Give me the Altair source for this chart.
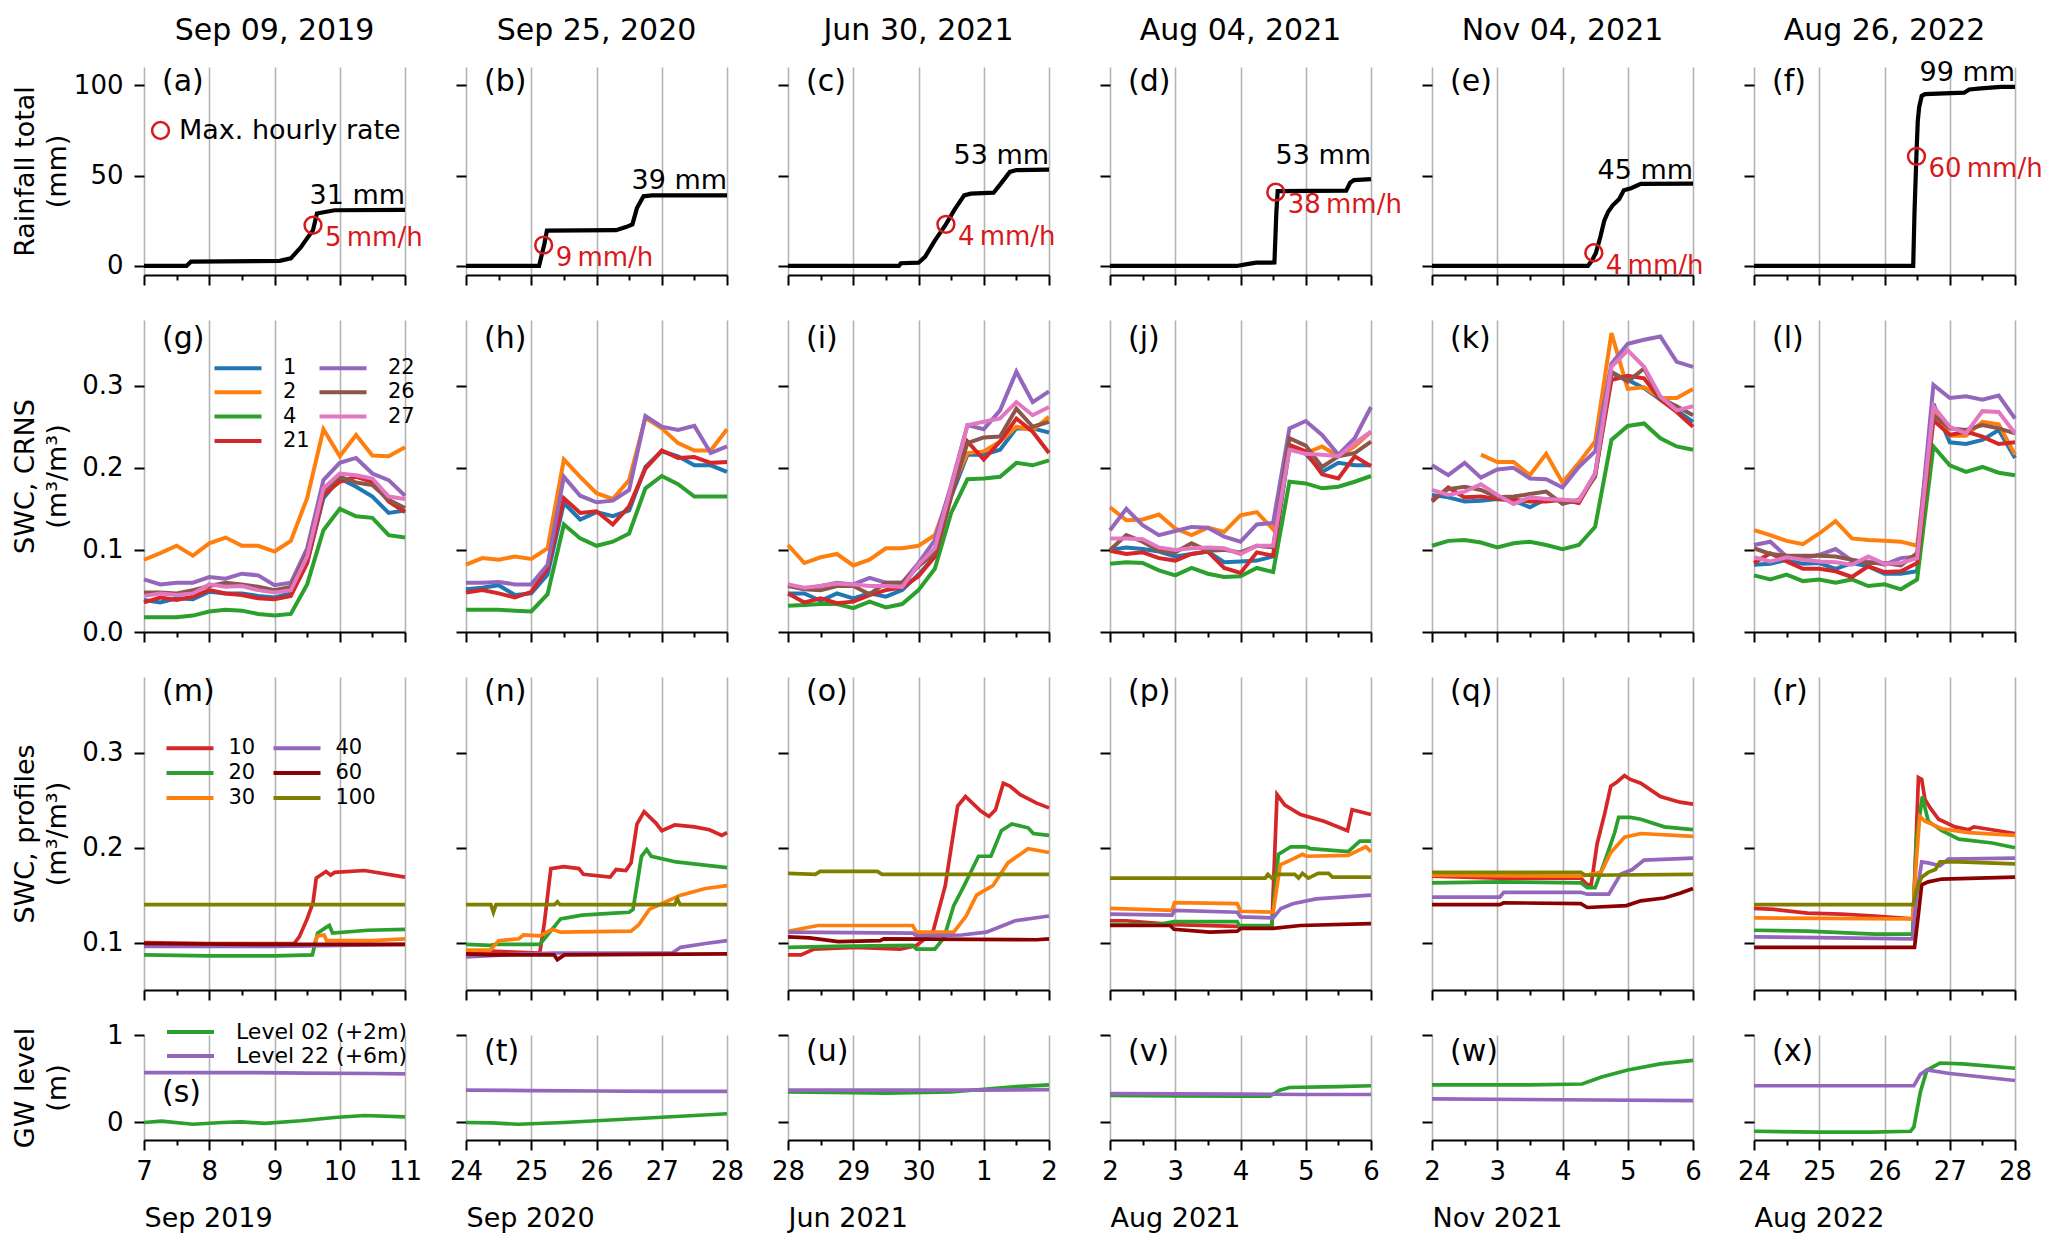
import altair as alt
import pandas as pd

FONT = "DejaVu Sans"
RED = "#d7191c"

# ---------------- text ----------------
COL_TITLES = ["Sep 09, 2019", "Sep 25, 2020", "Jun 30, 2021", "Aug 04, 2021", "Nov 04, 2021", "Aug 26, 2022"]
MONTHS = ["Sep 2019", "Sep 2020", "Jun 2021", "Aug 2021", "Nov 2021", "Aug 2022"]
DAY_LABELS = [["7", "8", "9", "10", "11"], ["24", "25", "26", "27", "28"], ["28", "29", "30", "1", "2"],
              ["2", "3", "4", "5", "6"], ["2", "3", "4", "5", "6"], ["24", "25", "26", "27", "28"]]
LETTERS = ["a", "b", "c", "d", "e", "f", "g", "h", "i", "j", "k", "l",
           "m", "n", "o", "p", "q", "r", "s", "t", "u", "v", "w", "x"]
Y_TITLES = [["Rainfall total", "(mm)"], ["SWC, CRNS", "(m³/m³)"], ["SWC, profiles", "(m³/m³)"], ["GW level", "(m)"]]
Y_TICKS = [[0, 50, 100], [0, 0.1, 0.2, 0.3], [0.1, 0.2, 0.3], [0, 1]]
Y_FMT = ["d", ".1f", ".1f", "d"]
Y_DOM = [[-5, 110], [0, 0.38], [0.05, 0.38], [-0.2, 1.0]]
X_TICKS = [0, 0.5, 1, 1.5, 2, 2.5, 3, 3.5, 4]

# ---------------- rainfall (days since start, cumulative mm) ----------------
RAIN_A = [(0, 0), (0.65, 0), (0.72, 2.4), (2.08, 2.8), (2.25, 4.2), (2.41, 10.6), (2.48, 14.3), (2.59, 19.8),
          (2.65, 29.0), (2.92, 30.8), (4, 31)]
RAIN_B = [(0, 0), (1.12, 0), (1.16, 6), (1.2, 12), (1.24, 19.5), (2.3, 19.8), (2.45, 21.5), (2.55, 23),
          (2.62, 32), (2.72, 38.5), (2.85, 39), (4, 39)]
RAIN_C = [(0, 0), (1.7, 0), (1.73, 1.5), (2.0, 1.8), (2.1, 5), (2.25, 14), (2.42, 23), (2.55, 31), (2.7, 39),
          (2.8, 40), (3.15, 40.5), (3.25, 45), (3.4, 52), (3.5, 53), (4, 53.3)]
RAIN_D = [(0, 0), (1.94, 0), (2.1, 1.0), (2.24, 1.8), (2.52, 1.9), (2.55, 30), (2.57, 41.4), (3.62, 41.6),
          (3.68, 46), (3.74, 47.5), (4, 48)]
RAIN_E = [(0, 0), (2.39, 0), (2.45, 3), (2.51, 7), (2.58, 16), (2.64, 25), (2.7, 30), (2.77, 33.5), (2.87, 37),
          (2.94, 41.8), (3.05, 43), (3.2, 45.4), (4, 45.5)]
RAIN_F = [(0, 0), (2.44, 0), (2.46, 30), (2.49, 62), (2.51, 80), (2.53, 87.5), (2.57, 94), (2.62, 95),
          (3.22, 95.8), (3.3, 97.6), (3.48, 98.2), (3.78, 99), (4, 99)]
RAIN = [RAIN_A, RAIN_B, RAIN_C, RAIN_D, RAIN_E, RAIN_F]
RAIN_TOTAL = [31, 39, 53, 53, 45, 99]
MAX_RATE = [5, 9, 4, 38, 4, 60]
MAX_RATE_T = [2.59, 1.19, 2.42, 2.54, 2.48, 2.49]
MAX_RATE_V = [22.5, 11.5, 23, 40.8, 7.3, 60.6]

# ---------------- CRNS soil water content (6-hourly) ----------------
T6 = [0, 0.25, 0.5, 0.75, 1, 1.25, 1.5, 1.75, 2, 2.25, 2.5, 2.75, 3, 3.25, 3.5, 3.75, 4]
CRNS_KEYS = ["1", "2", "4", "21", "22", "26", "27"]
CRNS_COLORS = ["#1f77b4", "#ff7f0e", "#2ca02c", "#d62728", "#9467bd", "#8c564b", "#e377c2"]

G_1 = [0.039, 0.036, 0.041, 0.040, 0.049, 0.047, 0.047, 0.044, 0.042, 0.047, 0.084, 0.163, 0.187, 0.177, 0.165, 0.145, 0.148]
G_2 = [0.088, 0.096, 0.105, 0.093, 0.108, 0.115, 0.105, 0.105, 0.098, 0.111, 0.163, 0.247, 0.214, 0.240, 0.215, 0.214, 0.225]
G_4 = [0.018, 0.018, 0.018, 0.020, 0.025, 0.027, 0.026, 0.022, 0.020, 0.022, 0.058, 0.124, 0.150, 0.141, 0.139, 0.118, 0.115]
G_21 = [0.036, 0.042, 0.039, 0.043, 0.051, 0.047, 0.045, 0.041, 0.040, 0.044, 0.084, 0.167, 0.183, 0.189, 0.183, 0.159, 0.146]
G_22 = [0.064, 0.058, 0.060, 0.060, 0.067, 0.065, 0.071, 0.069, 0.057, 0.060, 0.102, 0.185, 0.206, 0.212, 0.193, 0.185, 0.166]
G_26 = [0.048, 0.048, 0.047, 0.051, 0.056, 0.060, 0.058, 0.055, 0.051, 0.055, 0.096, 0.173, 0.189, 0.182, 0.179, 0.161, 0.151]
G_27 = [0.044, 0.047, 0.045, 0.047, 0.058, 0.055, 0.056, 0.051, 0.048, 0.051, 0.092, 0.175, 0.193, 0.191, 0.187, 0.165, 0.162]

H_1 = [0.052, 0.054, 0.057, 0.045, 0.047, 0.070, 0.157, 0.137, 0.146, 0.141, 0.148, 0.201, 0.220, 0.214, 0.203, 0.203, 0.195]
H_2 = [0.082, 0.090, 0.088, 0.092, 0.089, 0.102, 0.210, 0.189, 0.169, 0.162, 0.185, 0.261, 0.248, 0.230, 0.221, 0.221, 0.247]
H_4 = [0.027, 0.027, 0.027, 0.026, 0.025, 0.046, 0.131, 0.114, 0.105, 0.110, 0.120, 0.175, 0.190, 0.180, 0.165, 0.165, 0.165]
H_21 = [0.048, 0.051, 0.047, 0.042, 0.049, 0.077, 0.163, 0.145, 0.147, 0.131, 0.153, 0.199, 0.221, 0.212, 0.213, 0.206, 0.207]
H_22 = [0.060, 0.060, 0.061, 0.058, 0.058, 0.082, 0.189, 0.166, 0.158, 0.160, 0.173, 0.263, 0.250, 0.246, 0.251, 0.218, 0.226]
H_26 = []
H_27 = []

I_1 = [0.047, 0.047, 0.038, 0.047, 0.041, 0.047, 0.043, 0.051, 0.070, 0.092, 0.165, 0.216, 0.216, 0.222, 0.248, 0.248, 0.243]
I_2 = [0.106, 0.084, 0.091, 0.095, 0.081, 0.088, 0.102, 0.102, 0.105, 0.118, 0.173, 0.218, 0.220, 0.232, 0.250, 0.246, 0.262]
I_4 = [0.032, 0.033, 0.034, 0.034, 0.029, 0.037, 0.030, 0.034, 0.051, 0.077, 0.145, 0.186, 0.187, 0.189, 0.206, 0.203, 0.209]
I_21 = [0.047, 0.036, 0.041, 0.035, 0.037, 0.045, 0.051, 0.054, 0.068, 0.092, 0.165, 0.232, 0.210, 0.232, 0.260, 0.244, 0.218]
I_22 = [0.058, 0.052, 0.056, 0.060, 0.058, 0.066, 0.060, 0.060, 0.084, 0.112, 0.179, 0.252, 0.247, 0.270, 0.317, 0.280, 0.293]
I_26 = [0.056, 0.052, 0.051, 0.056, 0.056, 0.046, 0.060, 0.060, 0.080, 0.096, 0.169, 0.230, 0.237, 0.238, 0.272, 0.250, 0.256]
I_27 = [0.058, 0.054, 0.056, 0.059, 0.058, 0.056, 0.056, 0.055, 0.082, 0.102, 0.177, 0.252, 0.256, 0.260, 0.280, 0.264, 0.274]

J_1 = [0.100, 0.103, 0.101, 0.098, 0.092, 0.095, 0.098, 0.085, 0.086, 0.087, 0.092, 0.224, 0.217, 0.195, 0.206, 0.203, 0.203]
J_2 = [0.152, 0.136, 0.137, 0.143, 0.126, 0.118, 0.127, 0.122, 0.142, 0.146, 0.125, 0.226, 0.218, 0.226, 0.214, 0.226, 0.244]
J_4 = [0.083, 0.085, 0.084, 0.075, 0.069, 0.078, 0.071, 0.067, 0.068, 0.078, 0.073, 0.183, 0.181, 0.175, 0.177, 0.183, 0.190]
J_21 = [0.099, 0.095, 0.097, 0.090, 0.087, 0.095, 0.098, 0.078, 0.072, 0.097, 0.093, 0.228, 0.220, 0.192, 0.187, 0.214, 0.202]
J_22 = [0.124, 0.150, 0.130, 0.118, 0.123, 0.128, 0.127, 0.116, 0.110, 0.131, 0.133, 0.248, 0.257, 0.240, 0.216, 0.236, 0.274]
J_26 = [0.100, 0.118, 0.110, 0.099, 0.097, 0.108, 0.099, 0.100, 0.097, 0.105, 0.103, 0.236, 0.227, 0.201, 0.214, 0.218, 0.232]
J_27 = [0.114, 0.114, 0.113, 0.103, 0.100, 0.102, 0.103, 0.102, 0.095, 0.105, 0.105, 0.222, 0.217, 0.216, 0.214, 0.230, 0.244]

K_1 = [0.167, 0.164, 0.159, 0.160, 0.162, 0.160, 0.152, 0.162, 0.160, 0.158, 0.193, 0.315, 0.307, 0.297, 0.283, 0.270, 0.256]
K_2 = [None, None, None, 0.216, 0.207, 0.207, 0.191, 0.217, 0.182, 0.206, 0.232, 0.364, 0.296, 0.298, 0.285, 0.285, 0.296]
K_4 = [0.105, 0.111, 0.112, 0.109, 0.103, 0.108, 0.110, 0.106, 0.101, 0.106, 0.128, 0.234, 0.251, 0.254, 0.236, 0.226, 0.222]
K_21 = [0.159, 0.176, 0.164, 0.165, 0.162, 0.161, 0.159, 0.159, 0.161, 0.157, 0.191, 0.307, 0.312, 0.309, 0.283, 0.268, 0.250]
K_22 = [0.203, 0.191, 0.206, 0.188, 0.198, 0.200, 0.187, 0.186, 0.176, 0.201, 0.220, 0.327, 0.351, 0.356, 0.360, 0.329, 0.323]
K_26 = [0.161, 0.174, 0.177, 0.173, 0.164, 0.165, 0.168, 0.171, 0.156, 0.161, 0.189, 0.317, 0.305, 0.321, 0.285, 0.275, 0.264]
K_27 = [0.173, 0.167, 0.171, 0.180, 0.167, 0.156, 0.164, 0.162, 0.161, 0.160, 0.193, 0.323, 0.343, 0.323, 0.287, 0.270, 0.275]

L_1 = [0.082, 0.083, 0.088, 0.083, 0.084, 0.077, 0.084, 0.080, 0.071, 0.071, 0.074, 0.278, 0.231, 0.229, 0.234, 0.246, 0.212]
L_2 = [0.124, 0.118, 0.111, 0.107, 0.120, 0.135, 0.114, 0.112, 0.111, 0.110, 0.105, 0.274, 0.239, 0.239, 0.256, 0.253, 0.216]
L_4 = [0.069, 0.064, 0.070, 0.062, 0.064, 0.060, 0.064, 0.056, 0.058, 0.052, 0.064, 0.226, 0.203, 0.195, 0.201, 0.194, 0.191]
L_21 = [0.084, 0.096, 0.086, 0.077, 0.077, 0.074, 0.067, 0.080, 0.073, 0.074, 0.084, 0.258, 0.240, 0.244, 0.238, 0.229, 0.231]
L_22 = [0.106, 0.110, 0.092, 0.090, 0.094, 0.101, 0.087, 0.086, 0.082, 0.090, 0.092, 0.301, 0.285, 0.287, 0.283, 0.288, 0.260]
L_26 = [0.102, 0.095, 0.093, 0.093, 0.093, 0.092, 0.088, 0.084, 0.084, 0.081, 0.096, 0.264, 0.248, 0.246, 0.252, 0.248, 0.242]
L_27 = [0.091, 0.086, 0.091, 0.088, 0.086, 0.085, 0.082, 0.092, 0.083, 0.084, 0.090, 0.275, 0.250, 0.242, 0.269, 0.268, 0.242]

CRNS = [
    {"1": G_1, "2": G_2, "4": G_4, "21": G_21, "22": G_22, "26": G_26, "27": G_27},
    {"1": H_1, "2": H_2, "4": H_4, "21": H_21, "22": H_22, "26": H_26, "27": H_27},
    {"1": I_1, "2": I_2, "4": I_4, "21": I_21, "22": I_22, "26": I_26, "27": I_27},
    {"1": J_1, "2": J_2, "4": J_4, "21": J_21, "22": J_22, "26": J_26, "27": J_27},
    {"1": K_1, "2": K_2, "4": K_4, "21": K_21, "22": K_22, "26": K_26, "27": K_27},
    {"1": L_1, "2": L_2, "4": L_4, "21": L_21, "22": L_22, "26": L_26, "27": L_27},
]

# ---------------- soil profiles (depth cm), (day, m3/m3) ----------------
PROF_KEYS = ["10", "20", "30", "40", "60", "100"]
PROF_COLORS = ["#d62728", "#2ca02c", "#ff7f0e", "#9467bd", "#8b0000", "#808000"]

M_10 = [(0, 0.100), (1.0, 0.099), (2.3, 0.099), (2.38, 0.106), (2.5, 0.125), (2.59, 0.142), (2.64, 0.168), (2.79, 0.175),
        (2.86, 0.171), (2.92, 0.174), (3.38, 0.176), (4, 0.169)]
M_20 = [(0, 0.087), (1.0, 0.086), (2.0, 0.086), (2.58, 0.087), (2.66, 0.110), (2.79, 0.116), (2.84, 0.118), (2.89, 0.110),
        (3.43, 0.113), (4, 0.114)]
M_30 = [(0, 0.097), (2.6, 0.097), (2.66, 0.107), (2.76, 0.108), (2.8, 0.102), (3.5, 0.102), (4, 0.104)]
M_40 = [(0, 0.096), (2.0, 0.096), (4, 0.098)]
M_60 = [(0, 0.099), (2.0, 0.098), (4, 0.098)]
M_100 = [(0, 0.140), (1.5, 0.140), (2.5, 0.140), (4, 0.140)]

N_10 = [(0, 0.091), (0.37, 0.091), (1.13, 0.089), (1.2, 0.12), (1.30, 0.178), (1.5, 0.180), (1.73, 0.178), (1.8, 0.172),
        (2.21, 0.169), (2.3, 0.177), (2.45, 0.176), (2.53, 0.184), (2.62, 0.225), (2.73, 0.238), (2.91, 0.226),
        (3.0, 0.218), (3.2, 0.224), (3.5, 0.222), (3.73, 0.219), (3.92, 0.213), (4, 0.216)]
N_20 = [(0, 0.098), (0.37, 0.097), (0.46, 0.098), (1.13, 0.098), (1.26, 0.109), (1.45, 0.125), (1.78, 0.129), (2.27, 0.131),
        (2.5, 0.132), (2.56, 0.135), (2.69, 0.191), (2.77, 0.198), (2.84, 0.191), (3.22, 0.185), (4, 0.179)]
N_30 = [(0, 0.092), (0.37, 0.092), (0.5, 0.102), (0.81, 0.104), (0.88, 0.108), (1.13, 0.107), (1.32, 0.114), (1.45, 0.111),
        (2.53, 0.112), (2.65, 0.119), (2.81, 0.135), (3.03, 0.142), (3.29, 0.150), (3.67, 0.157), (4, 0.160)]
N_40 = [(0, 0.085), (0.88, 0.088), (1.38, 0.089), (3.16, 0.089), (3.29, 0.095), (3.67, 0.099), (4, 0.102)]
N_60 = [(0, 0.088), (0.37, 0.087), (1.35, 0.087), (1.40, 0.082), (1.51, 0.087), (4, 0.088)]
N_100 = [(0, 0.140), (0.38, 0.140), (0.42, 0.132), (0.46, 0.140), (1.36, 0.140), (1.40, 0.143), (1.44, 0.140),
         (3.2, 0.140), (3.24, 0.146), (3.28, 0.140), (4, 0.140)]

O_10 = [(0, 0.087), (0.2, 0.087), (0.39, 0.093), (1.03, 0.095), (1.72, 0.093), (1.97, 0.097), (2.22, 0.111), (2.41, 0.160),
        (2.6, 0.244), (2.72, 0.254), (2.95, 0.239), (3.08, 0.233), (3.18, 0.240), (3.3, 0.268), (3.4, 0.265),
        (3.56, 0.256), (3.81, 0.247), (4, 0.242)]
O_20 = [(0, 0.095), (0.71, 0.096), (1.91, 0.097), (1.97, 0.093), (2.25, 0.093), (2.39, 0.105), (2.54, 0.139), (2.7, 0.160),
        (2.82, 0.177), (2.92, 0.191), (3.11, 0.191), (3.27, 0.218), (3.43, 0.225), (3.68, 0.221), (3.76, 0.215), (4, 0.213)]
O_30 = [(0, 0.112), (0.46, 0.118), (1.34, 0.118), (1.91, 0.118), (1.97, 0.111), (2.54, 0.111), (2.73, 0.128), (2.89, 0.150),
        (3.14, 0.160), (3.37, 0.184), (3.68, 0.199), (4, 0.195)]
O_40 = [(0, 0.111), (1.91, 0.110), (1.97, 0.107), (2.66, 0.108), (3.04, 0.111), (3.3, 0.118), (3.48, 0.123), (4, 0.128)]
O_60 = [(0, 0.106), (0.33, 0.105), (0.77, 0.101), (1.41, 0.102), (1.47, 0.104), (3.81, 0.103), (4, 0.104)]
O_100 = [(0, 0.173), (0.42, 0.172), (0.49, 0.175), (1.37, 0.175), (1.44, 0.172), (4, 0.172)]

P_10 = [(0, 0.123), (0.25, 0.123), (0.98, 0.119), (1.95, 0.117), (2.48, 0.116), (2.56, 0.256), (2.68, 0.245), (2.92, 0.235),
        (3.28, 0.228), (3.64, 0.218), (3.71, 0.240), (4, 0.235)]
P_20 = [(0, 0.119), (0.74, 0.119), (0.98, 0.122), (1.95, 0.122), (1.98, 0.118), (2.48, 0.118), (2.58, 0.193), (2.77, 0.201),
        (3.01, 0.201), (3.07, 0.199), (3.65, 0.196), (3.83, 0.207), (4, 0.207)]
P_30 = [(0, 0.136), (0.95, 0.134), (0.99, 0.142), (1.95, 0.141), (2.0, 0.133), (2.5, 0.132), (2.61, 0.182), (2.8, 0.188),
        (2.95, 0.193), (3.01, 0.191), (3.65, 0.192), (3.92, 0.201), (4, 0.196)]
P_40 = [(0, 0.130), (0.95, 0.129), (0.99, 0.134), (1.95, 0.132), (2.0, 0.127), (2.5, 0.126), (2.62, 0.136), (2.8, 0.141),
        (3.16, 0.146), (4, 0.150)]
P_60 = [(0, 0.118), (0.92, 0.118), (0.98, 0.114), (1.53, 0.111), (1.95, 0.112), (2.01, 0.115), (2.5, 0.115), (2.92, 0.118),
        (4, 0.120)]
P_100 = [(0, 0.168), (2.38, 0.168), (2.42, 0.172), (2.48, 0.168), (2.56, 0.172), (2.83, 0.172), (2.89, 0.168), (2.95, 0.173),
         (3.04, 0.168), (3.19, 0.173), (3.35, 0.173), (3.41, 0.169), (4, 0.169)]

Q_10 = [(0, 0.170), (1.01, 0.168), (2.28, 0.168), (2.38, 0.161), (2.44, 0.161), (2.53, 0.204), (2.65, 0.237), (2.74, 0.265),
        (2.83, 0.269), (2.95, 0.276), (3.04, 0.272), (3.2, 0.268), (3.5, 0.254), (3.8, 0.248), (4, 0.246)]
Q_20 = [(0, 0.163), (1.07, 0.164), (2.28, 0.163), (2.38, 0.158), (2.5, 0.158), (2.65, 0.186), (2.8, 0.216), (2.86, 0.232),
        (3.04, 0.232), (3.2, 0.230), (3.56, 0.222), (4, 0.219)]
Q_30 = [(0, 0.171), (2.28, 0.170), (2.59, 0.174), (2.74, 0.195), (2.95, 0.211), (3.2, 0.215), (4, 0.212)]
Q_40 = [(0, 0.148), (1.04, 0.148), (1.1, 0.153), (2.28, 0.153), (2.38, 0.151), (2.71, 0.151), (2.89, 0.172), (3.07, 0.177),
        (3.25, 0.187), (4, 0.189)]
Q_60 = [(0, 0.140), (1.04, 0.140), (1.1, 0.142), (2.28, 0.141), (2.38, 0.137), (2.98, 0.139), (3.2, 0.144), (3.56, 0.147),
        (3.8, 0.152), (4, 0.157)]
Q_100 = [(0, 0.174), (2.28, 0.174), (2.35, 0.171), (4, 0.172)]

R_10 = [(0, 0.136), (0.31, 0.135), (0.82, 0.131), (1.34, 0.130), (1.85, 0.128), (2.44, 0.125), (2.52, 0.274), (2.57, 0.272),
        (2.62, 0.251), (2.70, 0.242), (2.83, 0.230), (3.08, 0.222), (3.29, 0.219), (3.37, 0.222), (3.55, 0.220), (4, 0.215)]
R_20 = [(0, 0.113), (0.82, 0.112), (1.85, 0.109), (2.43, 0.109), (2.49, 0.209), (2.58, 0.254), (2.67, 0.228), (2.88, 0.218),
        (3.14, 0.209), (3.65, 0.205), (4, 0.200)]
R_30 = [(0, 0.126), (2.43, 0.125), (2.49, 0.188), (2.54, 0.233), (2.62, 0.228), (2.88, 0.220), (3.29, 0.216), (4, 0.213)]
R_40 = [(0, 0.106), (2.43, 0.104), (2.49, 0.149), (2.57, 0.185), (2.67, 0.184), (2.85, 0.181), (2.98, 0.188), (4, 0.189)]
R_60 = [(0, 0.095), (2.46, 0.095), (2.52, 0.130), (2.57, 0.161), (2.67, 0.164), (2.88, 0.167), (4, 0.169)]
R_100 = [(0, 0.140), (2.44, 0.140), (2.49, 0.156), (2.57, 0.169), (2.67, 0.174), (2.78, 0.177), (2.85, 0.185),
         (3.14, 0.185), (4, 0.183)]

PROF = [
    {"10": M_10, "20": M_20, "30": M_30, "40": M_40, "60": M_60, "100": M_100},
    {"10": N_10, "20": N_20, "30": N_30, "40": N_40, "60": N_60, "100": N_100},
    {"10": O_10, "20": O_20, "30": O_30, "40": O_40, "60": O_60, "100": O_100},
    {"10": P_10, "20": P_20, "30": P_30, "40": P_40, "60": P_60, "100": P_100},
    {"10": Q_10, "20": Q_20, "30": Q_30, "40": Q_40, "60": Q_60, "100": Q_100},
    {"10": R_10, "20": R_20, "30": R_30, "40": R_40, "60": R_60, "100": R_100},
]

# ---------------- groundwater level (m), (day, m) ----------------
GW_KEYS = ["Level 02 (+2m)", "Level 22 (+6m)"]
GW_COLORS = ["#2ca02c", "#9467bd"]
S_02 = [(0, 0.0), (0.27, 0.015), (0.75, -0.02), (1.2, 0.0), (1.49, 0.008), (1.85, -0.01), (2.41, 0.02), (2.92, 0.057),
        (3.38, 0.08), (4, 0.065)]
S_22 = [(0, 0.57), (1.5, 0.57), (2.5, 0.565), (3.5, 0.56), (4, 0.555)]
T_02 = [(0, 0.0), (0.4, -0.005), (0.8, -0.02), (1.5, 0.0), (2.5, 0.04), (3.5, 0.08), (4, 0.1)]
T_22 = [(0, 0.37), (1, 0.365), (2, 0.36), (3, 0.355), (4, 0.355)]
U_02 = [(0, 0.35), (1, 0.34), (1.5, 0.335), (2.5, 0.35), (3, 0.38), (3.5, 0.41), (4, 0.43)]
U_22 = [(0, 0.37), (2, 0.37), (3, 0.37), (4, 0.375)]
V_02 = [(0, 0.31), (1, 0.305), (2, 0.3), (2.45, 0.3), (2.6, 0.37), (2.75, 0.4), (3.5, 0.41), (4, 0.42)]
V_22 = [(0, 0.33), (2, 0.325), (3, 0.32), (4, 0.32)]
W_02 = [(0, 0.43), (1.5, 0.43), (2.3, 0.44), (2.6, 0.52), (3.0, 0.6), (3.5, 0.67), (4, 0.71)]
W_22 = [(0, 0.27), (2, 0.26), (4, 0.25)]
X_02 = [(0, -0.1), (1, -0.11), (1.8, -0.11), (2.4, -0.1), (2.45, -0.05), (2.55, 0.35), (2.65, 0.6), (2.85, 0.68),
        (3.2, 0.67), (4, 0.62)]
X_22 = [(0, 0.42), (1.5, 0.42), (2.45, 0.42), (2.55, 0.55), (2.65, 0.6), (3.0, 0.56), (3.5, 0.52), (4, 0.48)]
GW = [
    {GW_KEYS[0]: S_02, GW_KEYS[1]: S_22},
    {GW_KEYS[0]: T_02, GW_KEYS[1]: T_22},
    {GW_KEYS[0]: U_02, GW_KEYS[1]: U_22},
    {GW_KEYS[0]: V_02, GW_KEYS[1]: V_22},
    {GW_KEYS[0]: W_02, GW_KEYS[1]: W_22},
    {GW_KEYS[0]: X_02, GW_KEYS[1]: X_22},
]

# ---------------- layout ----------------
W = 261
H = [208, 312, 313, 105]
LETTER_Y = [0, 4, 0, 2]
IS_INT = "datum.value % 1 === 0"
LINE_SYMBOL = "M-4.7,0H4.7"


def make_x(col, row):
    last = row == 3
    labs = "[" + ",".join("'" + s + "'" for s in DAY_LABELS[col]) + "]"
    ax = dict(values=X_TICKS, grid=True, gridColor="#b4b4b4", gridWidth=1.6,
              gridOpacity={"condition": {"test": IS_INT, "value": 1}, "value": 0},
              tickSize={"condition": {"test": IS_INT, "value": 10}, "value": 5},
              domain=True, labels=last, labelFlush=False, labelOverlap=False, labelPadding=8,
              labelExpr=f"{IS_INT} ? {labs}[round(datum.value)] : ''")
    if last:
        ax.update(title=MONTHS[col], titleX=0, titleY=86, titleAlign="left", titleAnchor="start",
                  titleBaseline="alphabetic")
    else:
        ax["title"] = None
    return alt.X("t:Q", scale=alt.Scale(domain=[0, 4], nice=False, zero=False), axis=alt.Axis(**ax))


def make_y(row, col):
    first = col == 0
    ax = dict(values=Y_TICKS[row], grid=False, domain=False, tickSize=10, labels=first,
              format=Y_FMT[row], labelPadding=11)
    if first:
        ax.update(title=Y_TITLES[row], titleX=-105, titleY=H[row] / 2, titleAngle=270, titleAlign="center",
                  titleBaseline="bottom", titleLineHeight=32)
    else:
        ax["title"] = None
    return alt.Y("v:Q", scale=alt.Scale(domain=Y_DOM[row], nice=False, zero=False), axis=alt.Axis(**ax))


def letter_layer(row, col):
    idx = row * 6 + col
    y = 43 if (row == 3 and col == 0) else LETTER_Y[row]
    df = pd.DataFrame({"lab": [f"({LETTERS[idx]})"]})
    return alt.Chart(df).mark_text(align="left", baseline="top", fontSize=30, color="black").encode(
        x=alt.value(18), y=alt.value(y), text="lab:N")


def rain_panel(c):
    xe, ye = make_x(c, 0), make_y(0, c)
    df = pd.DataFrame(RAIN[c], columns=["t", "v"])
    line = alt.Chart(df).mark_line(color="black", strokeWidth=4.2).encode(x=xe, y=ye)
    mdf = pd.DataFrame({"t": [MAX_RATE_T[c]], "v": [MAX_RATE_V[c]],
                        "lab": [f"{MAX_RATE[c]}\u2009mm/h"], "key": ["Max. hourly rate"]})
    if c == 0:
        color = alt.Color("key:N", scale=alt.Scale(domain=["Max. hourly rate"], range=[RED]),
                          legend=alt.Legend(orient="none", legendX=3, legendY=50, title=None, padding=0,
                                            symbolType="circle", symbolSize=283, symbolStrokeWidth=2.5,
                                            labelFontSize=27, labelOffset=5, labelLimit=0))
    else:
        color = alt.value(RED)
    pt = alt.Chart(mdf).mark_point(shape="circle", filled=False, size=283, strokeWidth=2.5, opacity=1).encode(
        x=xe, y=ye, color=color)
    rt = alt.Chart(mdf).mark_text(align="left", baseline="alphabetic", dx=12, dy=21, fontSize=26,
                                  color=RED).encode(x=xe, y=ye, text="lab:N")
    tdf = pd.DataFrame({"t": [4], "v": [RAIN_TOTAL[c]], "lab": [f"{RAIN_TOTAL[c]} mm"]})
    tt = alt.Chart(tdf).mark_text(align="right", baseline="alphabetic", dy=-6, fontSize=27,
                                  color="black").encode(x=xe, y=ye, text="lab:N")
    hdf = pd.DataFrame({"lab": [COL_TITLES[c]]})
    head = alt.Chart(hdf).mark_text(align="center", baseline="alphabetic", fontSize=30, color="black").encode(
        x=alt.value(W / 2), y=alt.value(-27), text="lab:N")
    return alt.layer(line, pt, rt, tt, letter_layer(0, c), head).properties(width=W, height=H[0])


def series_panel(row, c, frame, keys, colors, legend, width):
    recs = []
    for k in keys:
        for t, v in frame[k]:
            if v is not None:
                recs.append({"t": t, "v": v, "s": k})
    df = pd.DataFrame(recs)
    xe, ye = make_x(c, row), make_y(row, c)
    col_enc = alt.Color("s:N", scale=alt.Scale(domain=keys, range=colors),
                        legend=legend if c == 0 else None)
    line = alt.Chart(df).mark_line(strokeWidth=width).encode(x=xe, y=ye, color=col_enc, detail="s:N")
    return alt.layer(line, letter_layer(row, c)).properties(width=W, height=H[row])


def crns_frame(c):
    out = {}
    for k in CRNS_KEYS:
        vals = CRNS[c][k]
        out[k] = list(zip(T6, vals)) if vals else []
    return out


crns_legend = alt.Legend(orient="none", legendX=83.5, legendY=37.5, title=None, padding=0, columns=2,
                         symbolType=LINE_SYMBOL, symbolSize=100, symbolStrokeWidth=4, labelFontSize=21,
                         labelOffset=34.5, columnPadding=1, rowPadding=2.3, labelLimit=0)
prof_legend = alt.Legend(orient="none", legendX=35.5, legendY=60.5, title=None, padding=0, columns=2,
                         symbolType=LINE_SYMBOL, symbolSize=100, symbolStrokeWidth=4, labelFontSize=21,
                         labelOffset=28, columnPadding=10, rowPadding=3, labelLimit=0)
gw_legend = alt.Legend(orient="none", legendX=35.5, legendY=-14, title=None, padding=0, columns=1,
                       symbolType=LINE_SYMBOL, symbolSize=100, symbolStrokeWidth=4, labelFontSize=22,
                       labelOffset=34.5, rowPadding=2, labelLimit=0)

panels = []
for c in range(6):
    panels.append(rain_panel(c))
for c in range(6):
    panels.append(series_panel(1, c, crns_frame(c), CRNS_KEYS, CRNS_COLORS, crns_legend, 4))
for c in range(6):
    panels.append(series_panel(2, c, PROF[c], PROF_KEYS, PROF_COLORS, prof_legend, 3.7))
for c in range(6):
    panels.append(series_panel(3, c, GW[c], GW_KEYS, GW_COLORS, gw_legend, 3.7))

chart = alt.concat(
    *panels, columns=6, spacing={"row": 45, "column": 61}, bounds="flush", align="each",
    padding={"left": 3, "top": 8, "right": 5, "bottom": 5}
).resolve_scale(
    x="independent", y="independent", color="independent"
).configure_view(stroke=None).configure_axis(
    labelFont=FONT, labelFontSize=26, labelColor="black", titleFont=FONT, titleFontSize=27,
    titleFontWeight="normal", titleColor="black", tickColor="black", tickWidth=2,
    domainColor="black", domainWidth=2
).configure_legend(labelFont=FONT, labelColor="black").configure_text(font=FONT)

chart.save("out.html", embed_options={"renderer": "svg", "actions": False})
